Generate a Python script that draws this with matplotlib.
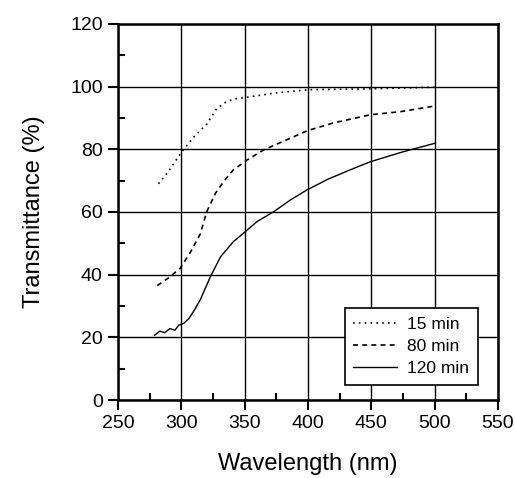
import matplotlib
matplotlib.use("Agg")
import matplotlib.pyplot as plt
from matplotlib.ticker import MultipleLocator

plt.rcParams["font.family"] = ["Liberation Sans", "DejaVu Sans"]

# 15 min
wl_15 = [282, 290, 300, 310, 320, 328, 335, 341, 350, 375, 400, 450, 500]
tr_15 = [69, 73, 79, 84, 88, 93, 95, 96, 96.5, 98, 99, 99.3, 99.8]

# 80 min
wl_80 = [281, 290, 299, 307, 315, 320, 327, 334, 341, 352, 365, 383, 400, 420, 449, 473, 500]
tr_80 = [36.5, 39, 42, 47, 53, 60, 66, 70, 73.4, 76.6, 79.8, 83, 86, 88.4, 91, 92, 93.8]

# 120 min
wl_120 = [279, 283, 287, 291, 295, 298, 302, 306, 310, 315, 323, 331, 341, 349, 360, 373, 386, 399, 416, 433, 449, 475, 500]
tr_120 = [20.7, 22, 21.5, 22.8, 22.3, 23.9, 24.5, 26, 28.5, 32, 39.4, 45.7, 50.5, 53.2, 57, 60.1, 63.8, 67, 70.5, 73.4, 76, 79.2, 81.9]

labels = ["15 min", "80 min", "120 min"]

fig = plt.figure(figsize=(5.15, 4.78), dpi=100)
ax = fig.add_axes([0.229, 0.163, 0.738, 0.787])

ax.plot(wl_15, tr_15, color="black", linestyle=(0, (1, 2.5)), linewidth=1.2, label=labels[0])
ax.plot(wl_80, tr_80, color="black", linestyle=(0, (3, 2.5)), linewidth=1.2, label=labels[1])
ax.plot(wl_120, tr_120, color="black", linestyle="-", linewidth=1.0, label=labels[2])

ax.set_xlim(250, 550)
ax.set_ylim(0, 120)
ax.xaxis.set_major_locator(MultipleLocator(50))
ax.xaxis.set_minor_locator(MultipleLocator(25))
ax.yaxis.set_major_locator(MultipleLocator(20))
ax.yaxis.set_minor_locator(MultipleLocator(10))
ax.grid(True, which="major", color="black", linewidth=1.0)
ax.set_axisbelow(True)

for s in ax.spines.values():
    s.set_linewidth(1.8)
ax.tick_params(which="major", direction="out", length=7, width=1.5, labelsize=14, pad=4)
ax.tick_params(which="minor", direction="in", length=5, width=1.5)

ax.set_xlabel("Wavelength (nm)", fontsize=17, labelpad=15)
ax.set_ylabel("Transmittance (%)", fontsize=17, labelpad=18)

leg = ax.legend(loc="lower right", bbox_to_anchor=(0.947, 0.04), fontsize=12.5,
                frameon=True, fancybox=False, edgecolor="black", framealpha=1,
                handlelength=2.5, handletextpad=0.6, borderpad=0.5,
                labelspacing=0.4, borderaxespad=0)
leg.get_frame().set_linewidth(1.2)

fig.savefig("out.png", dpi=100)
